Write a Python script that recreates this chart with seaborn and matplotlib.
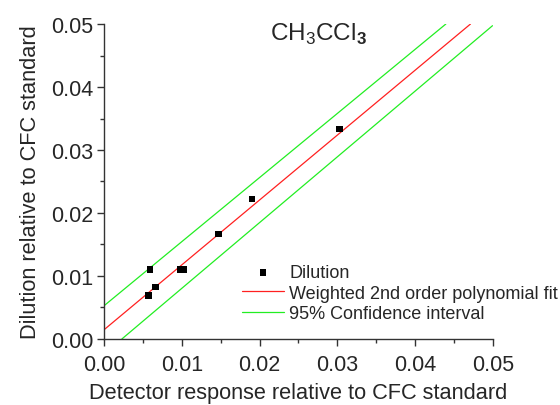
import numpy as np
import pandas as pd
import seaborn as sns
import matplotlib.pyplot as plt

# measured points (detector response vs dilution, relative to CFC standard)
resp = [0.00587, 0.00569, 0.00659, 0.00977, 0.01019, 0.01469, 0.0190, 0.0303]
dilution = [0.0110, 0.00687, 0.00825, 0.0110, 0.0110, 0.01667, 0.0222, 0.0333]

# fit and confidence band, end points
fit_x = [0.0, 0.04713]
fit_y = [0.00148, 0.05]
upper_x = [0.0, 0.04396]
upper_y = [0.00529, 0.05]
lower_x = [0.00228, 0.04996]
lower_y = [0.0, 0.04973]

ticks = [0.00, 0.01, 0.02, 0.03, 0.04, 0.05]
tick_labels = ['0.00', '0.01', '0.02', '0.03', '0.04', '0.05']


def main():
    sns.set_style("ticks")
    plt.rcParams['font.family'] = ['Liberation Sans', 'DejaVu Sans']
    plt.rcParams['mathtext.fontset'] = 'custom'
    plt.rcParams['mathtext.rm'] = 'Liberation Sans'
    plt.rcParams['mathtext.bf'] = 'Liberation Sans:bold'

    fig = plt.figure(figsize=(5.6, 4.06), dpi=100)
    ax = fig.add_axes([0.186, 0.1626, 0.694, 0.7758])

    pts = pd.DataFrame({'x': resp, 'y': dilution})
    sns.scatterplot(data=pts, x='x', y='y', marker='s', s=22, color='black',
                    edgecolor='none', label='Dilution', ax=ax, zorder=3)
    sns.lineplot(x=fit_x, y=fit_y, color='#ff2020', linewidth=0.9,
                 label='Weighted 2nd order polynomial fit', ax=ax)
    sns.lineplot(x=upper_x, y=upper_y, color='#22ee22', linewidth=0.9,
                 label='95% Confidence interval', ax=ax)
    sns.lineplot(x=lower_x, y=lower_y, color='#22ee22', linewidth=0.9, ax=ax)

    ax.set_xlim(0, 0.05)
    ax.set_ylim(0, 0.05)
    ax.set_xticks(ticks)
    ax.set_yticks(ticks)
    ax.set_xticklabels(tick_labels)
    ax.set_yticklabels(tick_labels)
    ax.set_xticks(np.arange(0.005, 0.05, 0.01), minor=True)
    ax.set_yticks(np.arange(0.005, 0.05, 0.01), minor=True)
    ax.tick_params(which='major', direction='out', length=5, width=1,
                   labelsize=15.5, color='#333333', pad=3)
    ax.tick_params(axis='x', which='major', pad=6)
    ax.tick_params(which='minor', direction='out', length=3, width=1,
                   color='#333333')
    for s in ['top', 'right']:
        ax.spines[s].set_visible(False)
    for s in ['left', 'bottom']:
        ax.spines[s].set_color('#333333')
        ax.spines[s].set_linewidth(1)

    ax.set_xlabel('Detector response relative to CFC standard', fontsize=15.7, labelpad=5)
    ax.set_ylabel('Dilution relative to CFC standard', fontsize=15.7, labelpad=7)

    ax.text(0.0214, 0.0485, r'CH$_3$CCl$_\mathbf{3}$', fontsize=17.5, va='center', ha='left')

    ax.legend(loc='lower right', bbox_to_anchor=(1.186, 0.03), frameon=False,
              fontsize=13, handlelength=2.3, handletextpad=0.3, labelspacing=0.2,
              borderaxespad=0)

    fig.savefig('out.png', dpi=100)


if __name__ == "__main__":
    main()
